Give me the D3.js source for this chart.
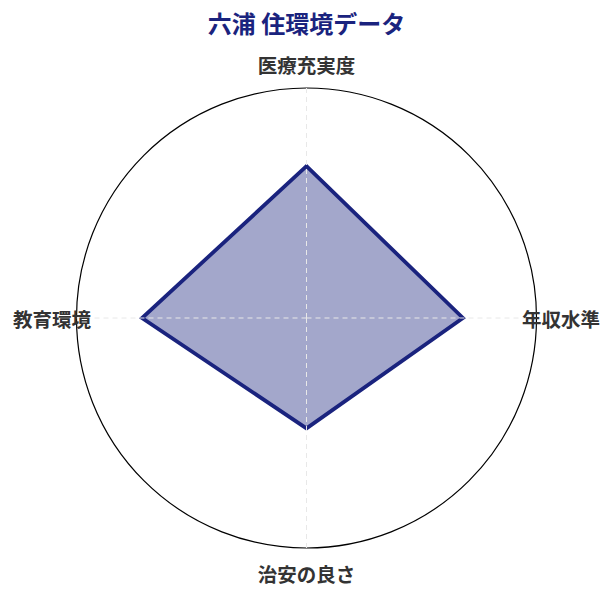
<!DOCTYPE html>
<html>
<head>
<meta charset="utf-8">
<script src="https://d3js.org/d3.v7.min.js"></script>
<style>
  body { margin: 0; background: #fff; font-family: "Noto Sans CJK JP", "Noto Sans", sans-serif; }
  svg { display: block; }
</style>
</head>
<body>
<div id="chart"></div>
<script>
  // data
  const title = '六浦 住環境データ';
  const axes = ['医療充実度', '年収水準', '治安の良さ', '教育環境'];
  const values = [66, 68, 48, 71.5];
  const maxValue = 100;

  const width = 612, height = 595;
  const cx = 306.5, cy = 318, radius = 230;
  const navy = '#1a237e';

  const svg = d3.select('#chart').append('svg')
    .attr('width', width)
    .attr('height', height);

  const r = d3.scaleLinear().domain([0, maxValue]).range([0, radius]);
  const angle = d3.scaleBand().domain(axes).range([0, 2 * Math.PI]);

  const g = svg.append('g').attr('transform', `translate(${cx},${cy})`);

  // outer circle
  g.append('circle')
    .attr('r', radius)
    .attr('fill', 'none')
    .attr('stroke', '#000')
    .attr('stroke-width', 1.2);

  // data polygon
  const line = d3.lineRadial()
    .angle(d => angle(d.axis))
    .radius(d => r(d.value))
    .curve(d3.curveLinearClosed);

  const pts = axes.map((a, i) => ({ axis: a, value: values[i] }));

  g.append('path')
    .datum(pts)
    .attr('d', line)
    .attr('fill', navy)
    .attr('fill-opacity', 0.4)
    .attr('stroke', navy)
    .attr('stroke-width', 3.8)
    .attr('stroke-linejoin', 'miter');

  // grid spokes (dashed, drawn on top)
  g.selectAll('.spoke')
    .data(axes)
    .enter().append('line')
    .attr('class', 'spoke')
    .attr('x1', 0).attr('y1', 0)
    .attr('x2', d => radius * Math.sin(angle(d)))
    .attr('y2', d => -radius * Math.cos(angle(d)))
    .attr('stroke', '#e8e8e8')
    .attr('stroke-width', 1)
    .attr('stroke-dasharray', '5,4');

  // axis labels
  const labelPos = {
    '医療充実度': { x: 0, y: 64 - cy, anchor: 'middle' },
    '年収水準': { x: 522 - cx, y: 0, anchor: 'start' },
    '治安の良さ': { x: 0, y: 573 - cy, anchor: 'middle' },
    '教育環境': { x: 91 - cx, y: 0, anchor: 'end' }
  };

  g.selectAll('.axis-label')
    .data(axes)
    .enter().append('text')
    .attr('class', 'axis-label')
    .attr('x', d => labelPos[d].x)
    .attr('y', d => labelPos[d].y)
    .attr('text-anchor', d => labelPos[d].anchor)
    .attr('dominant-baseline', 'central')
    .attr('font-size', 19.5)
    .attr('font-weight', 'bold')
    .attr('fill', '#333')
    .text(d => d);

  // title
  svg.append('text')
    .attr('x', cx)
    .attr('y', 22)
    .attr('text-anchor', 'middle')
    .attr('dominant-baseline', 'central')
    .attr('font-size', 24)
    .attr('font-weight', 'bold')
    .attr('fill', navy)
    .text(title);
</script>
</body>
</html>
